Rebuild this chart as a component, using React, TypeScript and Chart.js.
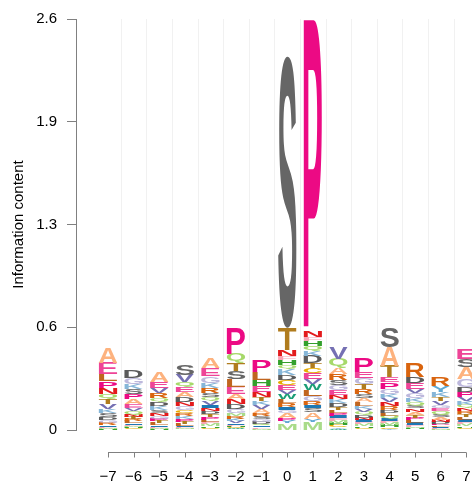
import { useEffect, useRef } from 'react';
import { Chart, registerables } from 'chart.js';

Chart.register(...registerables);

// sequence positions and their tick labels
const positions = [-7, -6, -5, -4, -3, -2, -1, 0, 1, 2, 3, 4, 5, 6, 7];
const positionLabels = ['−7', '−6', '−5', '−4', '−3', '−2', '−1', '0', '1', '2', '3', '4', '5', '6', '7'];

// y axis ticks (information content, bits)
const yTickValues = [0, 0.65, 1.3, 1.95, 2.6];
const yTickLabels = ['0', '0.6', '1.3', '1.9', '2.6'];

// letters of every column, listed from top to bottom
const letterStacks = [
  'AELPNQTVKSDGRIFMHY',
  'DGKSPAEVQNTRLIFMHCYW',
  'AEVRQDKSNGPTLIFMHC',
  'SVQEADNGCRKPTLIFMHY',
  'AEGKRSQVINDTPLFMHCY',
  'PQTSLEANDGMRKVIFHCWY',
  'PLHENTKVARSGDQIFMC',
  'STNFHQKDCEVWLRIGAPYM',
  'PNFHQKDTCEVWLGRISAYM',
  'VQARSGENKDTLPIFMHCYW',
  'PEGTRSALKVQDNIFMHCY',
  'SATEPGKVNRDLQIFMHCY',
  'RDEVGKQSNATPLIFMHC',
  'RYKTVGEQSANDPLIFMH',
  'ESAGDPVKQNRTLIFMHCY',
];

// letter heights (bits), same order as letterStacks
const letterBits = [
  [0.095, 0.070, 0.044, 0.044, 0.038, 0.032, 0.032, 0.032, 0.025, 0.025, 0.019, 0.019, 0.013, 0.009, 0.008, 0.006, 0.005, 0.003],
  [0.044, 0.038, 0.032, 0.032, 0.032, 0.032, 0.025, 0.019, 0.019, 0.016, 0.016, 0.013, 0.013, 0.009, 0.009, 0.006, 0.006, 0.006, 0.003, 0.003],
  [0.063, 0.038, 0.032, 0.032, 0.025, 0.025, 0.025, 0.019, 0.019, 0.019, 0.016, 0.013, 0.013, 0.009, 0.006, 0.006, 0.006, 0.003],
  [0.063, 0.044, 0.032, 0.032, 0.032, 0.032, 0.025, 0.025, 0.019, 0.019, 0.019, 0.016, 0.013, 0.013, 0.009, 0.006, 0.006, 0.003, 0.003],
  [0.063, 0.051, 0.044, 0.032, 0.032, 0.025, 0.025, 0.025, 0.019, 0.019, 0.019, 0.019, 0.016, 0.016, 0.013, 0.013, 0.009, 0.009, 0.006],
  [0.165, 0.057, 0.051, 0.051, 0.051, 0.044, 0.032, 0.032, 0.032, 0.025, 0.019, 0.019, 0.013, 0.013, 0.009, 0.009, 0.006, 0.006, 0.006, 0.006],
  [0.070, 0.051, 0.038, 0.038, 0.032, 0.025, 0.025, 0.025, 0.025, 0.019, 0.019, 0.019, 0.013, 0.013, 0.009, 0.009, 0.006, 0.003],
  [1.720, 0.139, 0.038, 0.025, 0.032, 0.025, 0.038, 0.032, 0.032, 0.032, 0.025, 0.032, 0.025, 0.025, 0.019, 0.019, 0.032, 0.019, 0.013, 0.044],
  [1.970, 0.038, 0.025, 0.032, 0.032, 0.032, 0.044, 0.032, 0.032, 0.038, 0.032, 0.038, 0.038, 0.032, 0.025, 0.019, 0.025, 0.044, 0.019, 0.051],
  [0.070, 0.057, 0.038, 0.038, 0.032, 0.032, 0.032, 0.025, 0.025, 0.025, 0.019, 0.019, 0.019, 0.016, 0.016, 0.013, 0.013, 0.013, 0.009, 0.009],
  [0.089, 0.038, 0.038, 0.032, 0.032, 0.025, 0.025, 0.025, 0.019, 0.019, 0.019, 0.019, 0.013, 0.013, 0.013, 0.013, 0.009, 0.009, 0.006],
  [0.127, 0.120, 0.070, 0.032, 0.044, 0.032, 0.025, 0.025, 0.025, 0.025, 0.019, 0.019, 0.019, 0.013, 0.013, 0.013, 0.013, 0.009, 0.009],
  [0.089, 0.038, 0.038, 0.025, 0.032, 0.025, 0.025, 0.019, 0.019, 0.019, 0.019, 0.016, 0.016, 0.013, 0.013, 0.009, 0.006, 0.006],
  [0.057, 0.038, 0.032, 0.025, 0.025, 0.019, 0.019, 0.019, 0.019, 0.016, 0.013, 0.013, 0.009, 0.009, 0.006, 0.006, 0.006, 0.003],
  [0.063, 0.051, 0.076, 0.051, 0.032, 0.032, 0.025, 0.025, 0.019, 0.019, 0.019, 0.019, 0.019, 0.013, 0.013, 0.013, 0.009, 0.009, 0.006],
];

const letterColors: Record<string, string> = {
  A: '#FDB27E', C: '#E6AB02', D: '#5A5A5A', E: '#EE4497', F: '#F9A3B5',
  G: '#BDB8DC', H: '#33A02C', I: '#1F78B4', K: '#86B6D8', L: '#C0651F',
  M: '#A9DB8A', N: '#E31A1C', P: '#EC0A84', Q: '#A6D96A', R: '#D9640E',
  S: '#666666', T: '#B07C1E', V: '#7570B3', W: '#1B9E77', Y: '#5FA8D3',
};

const FONT_FAMILY = '"Liberation Sans", Arial, Helvetica, sans-serif';
const GLYPH_FONT = `bold 100px ${FONT_FAMILY}`;
const AXIS_GRAY = '#808080';

const glyphCache: Record<string, { l: number; r: number; a: number; d: number }> = {};
function glyphBox(ctx: CanvasRenderingContext2D, ch: string) {
  if (!glyphCache[ch]) {
    ctx.save();
    ctx.font = GLYPH_FONT;
    const m = ctx.measureText(ch);
    glyphCache[ch] = {
      l: m.actualBoundingBoxLeft,
      r: m.actualBoundingBoxRight,
      a: m.actualBoundingBoxAscent,
      d: m.actualBoundingBoxDescent,
    };
    ctx.restore();
  }
  return glyphCache[ch];
}

const logoPlugin = {
  id: 'logoPlugin',
  beforeDatasetsDraw(chart: any) {
    const { ctx, chartArea, scales } = chart;
    const x = scales.x;
    ctx.save();
    ctx.strokeStyle = '#f1f1f1';
    ctx.lineWidth = 1;
    for (let i = 0; i < positions.length - 1; i++) {
      const px = Math.round(x.getPixelForValue((positions[i] + positions[i + 1]) / 2)) + 0.5;
      ctx.beginPath();
      ctx.moveTo(px, chartArea.top);
      ctx.lineTo(px, chartArea.bottom);
      ctx.stroke();
    }
    ctx.restore();
  },
  afterDatasetsDraw(chart: any) {
    const { ctx } = chart;
    chart.data.datasets.forEach((ds: any, d: number) => {
      const meta = chart.getDatasetMeta(d);
      meta.data.forEach((bar: any, i: number) => {
        const ch = ds.letters[i];
        if (!ch) return;
        const p = bar.getProps(['x', 'y', 'base', 'width'], true);
        const top = Math.min(p.y, p.base);
        const H = Math.abs(p.base - p.y);
        if (H <= 0.05) return;
        const W = p.width;
        const left = p.x - W / 2;
        const g = glyphBox(ctx, ch);
        const gw = g.l + g.r;
        const gh = g.a + g.d;
        ctx.save();
        ctx.translate(left, top);
        ctx.scale(W / gw, H / gh);
        ctx.font = GLYPH_FONT;
        ctx.textAlign = 'left';
        ctx.textBaseline = 'alphabetic';
        ctx.fillStyle = letterColors[ch] || '#000';
        ctx.fillText(ch, g.l, g.a);
        ctx.restore();
      });
    });
  },
  afterDraw(chart: any) {
    const { ctx, chartArea, scales } = chart;
    const x = scales.x;
    const yLine = Math.round(chartArea.bottom + 22) + 0.5;
    const x0 = x.getPixelForValue(positions[0]);
    const x1 = x.getPixelForValue(positions[positions.length - 1]);
    ctx.save();
    ctx.strokeStyle = AXIS_GRAY;
    ctx.lineWidth = 1;
    ctx.beginPath();
    ctx.moveTo(x0, yLine);
    ctx.lineTo(x1, yLine);
    positions.forEach((v) => {
      const px = Math.round(x.getPixelForValue(v)) + 0.5;
      ctx.moveTo(px, yLine);
      ctx.lineTo(px, yLine + 5);
    });
    ctx.stroke();
    ctx.restore();
  },
};

export default function App() {
  const canvasRef = useRef<HTMLCanvasElement>(null);

  useEffect(() => {
    if (!canvasRef.current) return;
    document.body.style.margin = '0';
    document.body.style.overflow = 'hidden';
    const maxLen = Math.max(...letterStacks.map((s) => s.length));
    const datasets: any[] = [];
    for (let r = 0; r < maxLen; r++) {
      datasets.push({
        data: positions.map((p, i) => {
          const L = letterStacks[i].length;
          return { x: p, y: r < L ? letterBits[i][L - 1 - r] : 0 };
        }),
        letters: positions.map((_, i) => {
          const L = letterStacks[i].length;
          return r < L ? letterStacks[i][L - 1 - r] : '';
        }),
        backgroundColor: 'rgba(0,0,0,0)',
        borderWidth: 0,
        categoryPercentage: 0.8,
        barPercentage: 0.9,
      });
    }
    const font = { family: FONT_FAMILY, size: 15 };
    const chart = new Chart(canvasRef.current, {
      type: 'bar',
      data: { datasets },
      options: {
        animation: false,
        responsive: false,
        maintainAspectRatio: false,
        layout: { padding: { top: 19, right: 0, left: 0, bottom: 0 } },
        plugins: { legend: { display: false }, tooltip: { enabled: false } },
        scales: {
          x: {
            type: 'linear',
            stacked: true,
            offset: false,
            min: -8.25,
            max: 7.22,
            afterBuildTicks: (s: any) => {
              s.ticks = positions.map((v) => ({ value: v }));
            },
            afterFit: (s: any) => {
              s.height = 58;
              s.paddingLeft = 0;
              s.paddingRight = 0;
            },
            ticks: {
              callback: (v: any) => positionLabels[positions.indexOf(Number(v))],
              color: '#000',
              font,
              padding: 38,
              autoSkip: false,
              maxRotation: 0,
            },
            grid: { display: false, drawTicks: false, offset: false },
            border: { display: false },
          },
          y: {
            stacked: true,
            min: 0,
            max: 2.6,
            afterBuildTicks: (s: any) => {
              s.ticks = yTickValues.map((v) => ({ value: v }));
            },
            afterFit: (s: any) => {
              s.width = 76;
              s.paddingTop = 0;
              s.paddingBottom = 0;
            },
            ticks: {
              callback: (v: any) => yTickLabels[yTickValues.indexOf(Number(v))],
              color: '#000',
              font,
              padding: 10,
            },
            grid: { drawOnChartArea: false, drawTicks: true, tickLength: 9, color: AXIS_GRAY },
            border: { display: true, color: AXIS_GRAY },
            title: {
              display: true,
              text: 'Information content',
              color: '#000',
              font,
              padding: { top: 10, bottom: 0 },
            },
          },
        },
      } as any,
      plugins: [logoPlugin],
    });
    return () => chart.destroy();
  }, []);

  return <canvas ref={canvasRef} width={472} height={488} style={{ display: 'block', width: 472, height: 488 }} />;
}
